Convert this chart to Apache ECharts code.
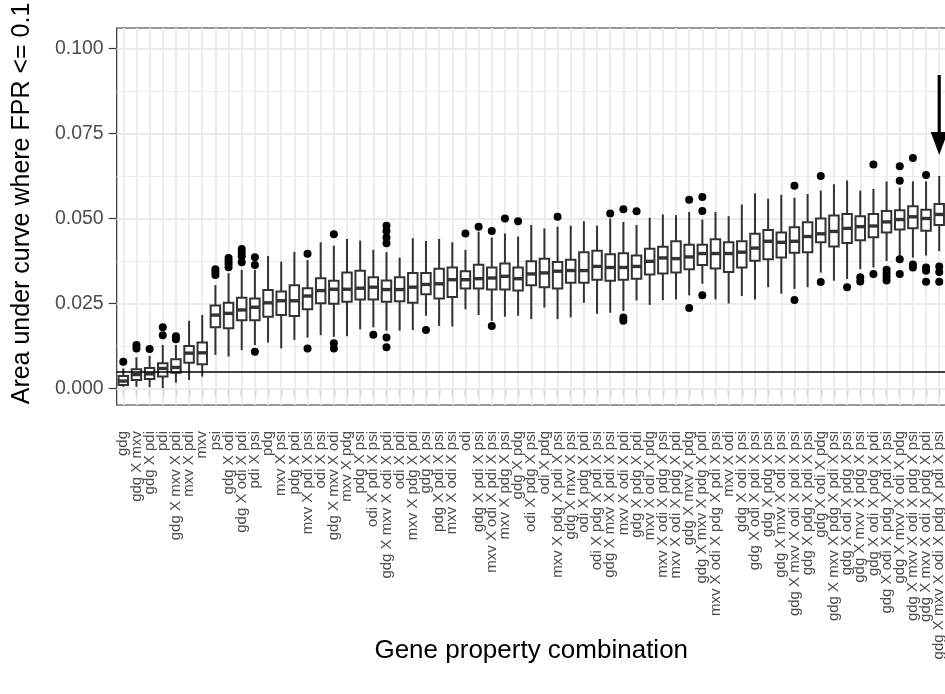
<!DOCTYPE html>
<html>
<head>
<meta charset="utf-8">
<script src="https://cdn.jsdelivr.net/npm/echarts@6/dist/echarts.min.js"></script>
<style>
  html, body { margin: 0; padding: 0; background: #fff; }
  #chart { width: 945px; height: 694px; }
</style>
</head>
<body>
<div id="chart"></div>
<script>
// Gene property combinations, ordered by median partial AUC
const categories = [
  'gdg', 'gdg X mxv', 'gdg X pdi', 'pdi', 'gdg X mxv X pdi', 'mxv X pdi', 'mxv', 'psi',
  'gdg X odi', 'gdg X odi X pdi', 'pdi X psi', 'pdg', 'mxv X psi', 'pdg X pdi',
  'mxv X pdi X psi', 'odi X psi', 'gdg X mxv X odi', 'mxv X pdg', 'pdg X psi',
  'odi X pdi X psi', 'gdg X mxv X odi X pdi', 'odi X pdi', 'mxv X pdg X pdi',
  'gdg X psi', 'pdg X pdi X psi', 'mxv X odi X psi', 'odi', 'gdg X pdi X psi',
  'mxv X odi X pdi X psi', 'mxv X pdg X psi', 'gdg X pdg', 'odi X pdg X psi',
  'odi X pdg', 'mxv X pdg X pdi X psi', 'gdg X mxv X psi', 'odi X pdg X pdi',
  'odi X pdg X pdi X psi', 'gdg X mxv X pdi X psi', 'mxv X odi X pdi',
  'gdg X pdg X pdi', 'mxv X odi X pdg', 'mxv X odi X pdg X psi',
  'mxv X odi X pdg X pdi', 'gdg X mxv X pdg', 'gdg X mxv X pdg X pdi',
  'mxv X odi X pdg X pdi X psi', 'mxv X odi', 'gdg X odi X psi',
  'gdg X odi X pdi X psi', 'gdg X pdg X psi', 'gdg X mxv X odi X psi',
  'gdg X mxv X odi X pdi X psi', 'gdg X pdg X pdi X psi', 'gdg X odi X pdg',
  'gdg X mxv X pdg X pdi X psi', 'gdg X odi X pdg X psi', 'gdg X mxv X pdg X psi',
  'gdg X odi X pdg X pdi', 'gdg X odi X pdg X pdi X psi', 'gdg X mxv X odi X pdg',
  'gdg X mxv X odi X pdg X psi', 'gdg X mxv X odi X pdg X pdi',
  'gdg X mxv X odi X pdg X pdi X psi'
];

// Box statistics per combination
const whiskerLow = [
  0.0005, 0.0005, 0.0004, 0.0001, 0.0017, 0.0025, 0.0035, 0.0099, 0.0094, 0.0113,
  0.0128, 0.0135, 0.0118, 0.0143, 0.0150, 0.0157, 0.0152, 0.0154, 0.0174, 0.0180,
  0.0170, 0.0170, 0.0172, 0.0214, 0.0184, 0.0182, 0.0233, 0.0216, 0.0199, 0.0211,
  0.0214, 0.0204, 0.0238, 0.0204, 0.0209, 0.0252, 0.0220, 0.0223, 0.0228, 0.0259,
  0.0246, 0.0260, 0.0262, 0.0274, 0.0308, 0.0262, 0.0250, 0.0272, 0.0262, 0.0298,
  0.0279, 0.0293, 0.0298, 0.0341, 0.0317, 0.0322, 0.0351, 0.0356, 0.0375, 0.0389,
  0.0385, 0.0391, 0.0404
];
const boxQ1 = [
  0.0010, 0.0025, 0.0028, 0.0035, 0.0046, 0.0076, 0.0071, 0.0180, 0.0177, 0.0201,
  0.0201, 0.0211, 0.0216, 0.0213, 0.0233, 0.0251, 0.0249, 0.0255, 0.0262, 0.0262,
  0.0255, 0.0257, 0.0252, 0.0277, 0.0265, 0.0269, 0.0294, 0.0294, 0.0291, 0.0291,
  0.0288, 0.0304, 0.0298, 0.0294, 0.0311, 0.0311, 0.0320, 0.0317, 0.0320, 0.0323,
  0.0335, 0.0338, 0.0341, 0.0351, 0.0363, 0.0353, 0.0343, 0.0356, 0.0376, 0.0380,
  0.0385, 0.0399, 0.0401, 0.0430, 0.0418, 0.0428, 0.0436, 0.0445, 0.0459, 0.0468,
  0.0471, 0.0464, 0.0481
];
const boxMedian = [
  0.0022, 0.0041, 0.0043, 0.0059, 0.0062, 0.0104, 0.0105, 0.0216, 0.0221, 0.0231,
  0.0239, 0.0252, 0.0258, 0.0258, 0.0272, 0.0288, 0.0292, 0.0292, 0.0295, 0.0298,
  0.0291, 0.0291, 0.0298, 0.0306, 0.0308, 0.0320, 0.0320, 0.0323, 0.0325, 0.0330,
  0.0323, 0.0337, 0.0340, 0.0345, 0.0347, 0.0347, 0.0359, 0.0356, 0.0356, 0.0359,
  0.0374, 0.0384, 0.0382, 0.0387, 0.0397, 0.0397, 0.0397, 0.0401, 0.0413, 0.0433,
  0.0430, 0.0433, 0.0447, 0.0455, 0.0462, 0.0471, 0.0476, 0.0478, 0.0490, 0.0497,
  0.0505, 0.0500, 0.0512
];
const boxQ3 = [
  0.0037, 0.0057, 0.0060, 0.0074, 0.0086, 0.0125, 0.0135, 0.0244, 0.0252, 0.0267,
  0.0265, 0.0290, 0.0285, 0.0304, 0.0295, 0.0324, 0.0317, 0.0341, 0.0346, 0.0327,
  0.0318, 0.0327, 0.0340, 0.0340, 0.0352, 0.0356, 0.0345, 0.0364, 0.0356, 0.0368,
  0.0356, 0.0374, 0.0382, 0.0372, 0.0379, 0.0401, 0.0405, 0.0395, 0.0398, 0.0391,
  0.0411, 0.0417, 0.0433, 0.0423, 0.0423, 0.0439, 0.0430, 0.0433, 0.0455, 0.0466,
  0.0459, 0.0474, 0.0489, 0.0500, 0.0509, 0.0513, 0.0507, 0.0513, 0.0522, 0.0524,
  0.0536, 0.0526, 0.0543
];
const whiskerHigh = [
  0.0059, 0.0092, 0.0096, 0.0128, 0.0128, 0.0199, 0.0216, 0.0304, 0.0339, 0.0349,
  0.0349, 0.0390, 0.0373, 0.0402, 0.0378, 0.0430, 0.0420, 0.0440, 0.0435, 0.0408,
  0.0401, 0.0385, 0.0442, 0.0434, 0.0440, 0.0430, 0.0408, 0.0461, 0.0444, 0.0456,
  0.0447, 0.0481, 0.0471, 0.0476, 0.0479, 0.0492, 0.0479, 0.0500, 0.0490, 0.0481,
  0.0502, 0.0512, 0.0510, 0.0519, 0.0497, 0.0519, 0.0507, 0.0541, 0.0574, 0.0558,
  0.0570, 0.0561, 0.0572, 0.0582, 0.0601, 0.0612, 0.0582, 0.0587, 0.0609, 0.0591,
  0.0609, 0.0609, 0.0625
];

// Outlying values: [combination index, value]
const outliers = [
  [0, 0.0079], [1, 0.0118], [1, 0.0128], [2, 0.0116], [3, 0.0157], [3, 0.0180],
  [4, 0.0145], [4, 0.0154], [7, 0.0334], [7, 0.0343], [7, 0.0351],
  [8, 0.0357], [8, 0.0366], [8, 0.0375], [8, 0.0384],
  [9, 0.0371], [9, 0.0389], [9, 0.0400], [9, 0.0410],
  [10, 0.0363], [10, 0.0386], [10, 0.0108], [14, 0.0396], [14, 0.0118],
  [16, 0.0454], [16, 0.0133], [16, 0.0118], [19, 0.0158],
  [20, 0.0427], [20, 0.0444], [20, 0.0463], [20, 0.0479], [20, 0.0150], [20, 0.0121],
  [23, 0.0172], [26, 0.0456], [27, 0.0476], [28, 0.0463], [28, 0.0184],
  [29, 0.0500], [30, 0.0492], [33, 0.0505], [37, 0.0515],
  [38, 0.0527], [38, 0.0209], [38, 0.0199], [39, 0.0521],
  [43, 0.0555], [43, 0.0237], [44, 0.0522], [44, 0.0563], [44, 0.0274],
  [51, 0.0596], [51, 0.0260], [53, 0.0625], [53, 0.0313], [55, 0.0298],
  [56, 0.0327], [56, 0.0315], [57, 0.0659], [57, 0.0337],
  [58, 0.0349], [58, 0.0339], [58, 0.0329], [58, 0.0318],
  [59, 0.0654], [59, 0.0611], [59, 0.0380], [59, 0.0337],
  [60, 0.0678], [60, 0.0365], [60, 0.0356],
  [61, 0.0628], [61, 0.0356], [61, 0.0346], [61, 0.0314],
  [62, 0.0359], [62, 0.0343], [62, 0.0314]
];

const yTicks = [0, 0.025, 0.05, 0.075, 0.1];
const yMinorGrid = [0.0125, 0.0375, 0.0625, 0.0875];
const randomBaseline = 0.005;          // partial AUC of a random classifier
const arrowStart = 0.0922;
const arrowTip = 0.0687;
const arrowCategory = categories.length - 1;

const FONT = 'Liberation Sans, Arial, Helvetica, sans-serif';
const GRID_COLOR = '#ebebeb';
const INK = '#333333';

const boxData = categories.map((c, i) =>
  [i, whiskerLow[i], boxQ1[i], boxMedian[i], boxQ3[i], whiskerHigh[i]]);

const gridLines = []
  .concat(yTicks.map(v => ({ yAxis: v, lineStyle: { color: GRID_COLOR, width: 1.8, type: 'solid' } })))
  .concat(yMinorGrid.map(v => ({ yAxis: v, lineStyle: { color: GRID_COLOR, width: 1.1, type: 'solid' } })))
  .concat(categories.map(c => ({ xAxis: c, lineStyle: { color: GRID_COLOR, width: 1.8, type: 'solid' } })));

function renderBox(params, api) {
  const x = api.value(0);
  const lo = api.coord([x, api.value(1)]);
  const q1 = api.coord([x, api.value(2)]);
  const md = api.coord([x, api.value(3)]);
  const q3 = api.coord([x, api.value(4)]);
  const hi = api.coord([x, api.value(5)]);
  const band = api.size([1, 0])[0];
  const w = band * 0.72;
  const cx = md[0];
  return {
    type: 'group',
    children: [
      { type: 'line', shape: { x1: cx, y1: lo[1], x2: cx, y2: q1[1] },
        style: { stroke: INK, lineWidth: 2 } },
      { type: 'line', shape: { x1: cx, y1: q3[1], x2: cx, y2: hi[1] },
        style: { stroke: INK, lineWidth: 2 } },
      { type: 'rect', shape: { x: cx - w / 2, y: q3[1], width: w, height: q1[1] - q3[1] },
        style: { fill: '#ffffff', stroke: INK, lineWidth: 2 } },
      { type: 'line', shape: { x1: cx - w / 2, y1: md[1], x2: cx + w / 2, y2: md[1] },
        style: { stroke: INK, lineWidth: 3.4 } }
    ]
  };
}

const chart = echarts.init(document.getElementById('chart'), null, { renderer: 'canvas' });

chart.setOption({
  animation: false,
  backgroundColor: '#ffffff',
  textStyle: { fontFamily: FONT },
  grid: {
    left: 116.7,
    top: 28,
    width: 829.1,
    height: 377,
    containLabel: false,
    outerBoundsMode: 'none',
    show: true,
    backgroundColor: '#ffffff',
    borderColor: INK,
    borderWidth: 1.2
  },
  xAxis: {
    type: 'category',
    data: categories,
    boundaryGap: true,
    axisLine: { show: true, lineStyle: { color: INK, width: 1.2 } },
    axisTick: { show: true, alignWithLabel: true, interval: 0, length: 8,
                lineStyle: { color: INK, width: 1.2 } },
    axisLabel: { interval: 0, rotate: 90, fontSize: 15, color: '#4d4d4d',
                 margin: 26, fontFamily: FONT },
    splitLine: { show: false },
    name: 'Gene property combination',
    nameLocation: 'middle',
    nameMoveOverlap: false,
    nameGap: 233,
    nameTextStyle: { fontSize: 26, color: '#000000', fontFamily: FONT }
  },
  yAxis: {
    type: 'value',
    min: -0.00485,
    max: 0.10603,
    axisLine: { show: false },
    axisTick: { show: true, length: 8, customValues: yTicks,
                lineStyle: { color: INK, width: 1.2 } },
    axisLabel: { customValues: yTicks, formatter: v => v.toFixed(3),
                 fontSize: 19.5, color: '#4d4d4d', margin: 13, fontFamily: FONT },
    splitLine: { show: false },
    name: 'Area under curve where FPR <= 0.1',
    nameLocation: 'middle',
    nameMoveOverlap: false,
    nameRotate: 90,
    nameGap: 82,
    nameTextStyle: { fontSize: 25, color: '#000000', fontFamily: FONT,
                     padding: [0, 0, 0, 26] }
  },
  series: [
    {
      // arrow shaft; also carries the panel grid lines
      type: 'line',
      z: 6,
      data: [[arrowCategory, arrowStart], [arrowCategory, arrowTip + 0.004]],
      symbol: 'none',
      lineStyle: { color: '#000000', width: 3.2 },
      silent: true,
      markLine: {
        z: 1,
        silent: true,
        precision: 6,
        symbol: ['none', 'none'],
        label: { show: false },
        animation: false,
        data: gridLines
      }
    },
    {
      type: 'custom',
      z: 3,
      renderItem: renderBox,
      encode: { x: 0, y: [1, 2, 3, 4, 5] },
      data: boxData,
      silent: true
    },
    {
      type: 'scatter',
      z: 4,
      data: outliers,
      symbol: 'circle',
      symbolSize: 8,
      itemStyle: { color: '#000000', opacity: 1 },
      silent: true,
      markLine: {
        z: 5,
        silent: true,
        precision: 6,
        symbol: ['none', 'none'],
        label: { show: false },
        animation: false,
        data: [{ yAxis: randomBaseline, lineStyle: { color: '#000000', width: 1.6, type: 'solid' } }]
      }
    },
    {
      // arrow head
      type: 'scatter',
      z: 6,
      data: [[arrowCategory, arrowTip]],
      symbol: 'triangle',
      symbolRotate: 180,
      symbolSize: [17, 23],
      symbolOffset: [0, -11.5],
      itemStyle: { color: '#000000', opacity: 1 },
      silent: true
    }
  ]
});
</script>
</body>
</html>
